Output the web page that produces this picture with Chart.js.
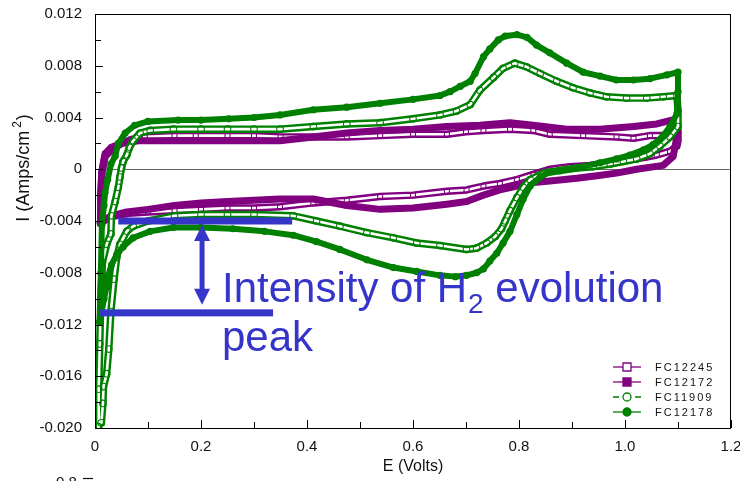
<!DOCTYPE html>
<html><head><meta charset="utf-8">
<script src="https://cdn.jsdelivr.net/npm/chart.js@4.4.1/dist/chart.umd.min.js"></script>
<style>html,body{margin:0;padding:0;background:#fff;overflow:hidden}canvas{display:block}</style>
</head><body>
<canvas id="c" width="740" height="481"></canvas>
<script>
// ---- data (E in volts, I in A/cm^2), sweep order ----
const seriesNames = ['FC12245', 'FC12172', 'FC11909', 'FC12178'];

const fc12245_E = [0.010,0.011,0.013,0.019,0.031,0.050,0.069,0.094,0.150,0.190,0.250,0.300,0.350,0.410,0.475,0.538,0.600,0.664,0.700,0.733,0.783,0.827,0.858,0.921,0.984,1.016,1.047,1.079,1.100,
  1.100,1.098,1.085,1.060,1.035,1.003,0.972,0.934,0.896,0.858,0.827,0.796,0.764,0.733,0.701,0.664,0.600,0.538,0.475,0.412,0.349,0.300,0.250,0.200,0.150,0.100,0.063,0.038,0.020,0.012];
const fc12245_I = [-0.0041,-0.0020,-0.0003,0.0010,0.0015,0.0020,0.0023,0.0025,0.0026,0.0026,0.0026,0.0026,0.0025,0.0025,0.0025,0.0026,0.0027,0.0027,0.0029,0.0030,0.0031,0.0030,0.0027,0.0026,0.0025,0.0024,0.0026,0.0026,0.0029,
  0.0022,0.0018,0.0014,0.0011,0.0009,0.0007,0.0005,0.0003,0.0002,0.0000,-0.0004,-0.0008,-0.0011,-0.0013,-0.0016,-0.0017,-0.0020,-0.0021,-0.0024,-0.0026,-0.0029,-0.0030,-0.0030,-0.0031,-0.0032,-0.0033,-0.0034,-0.0036,-0.0039,-0.0041];

const fc12172_E = [0.010,0.011,0.013,0.019,0.031,0.050,0.082,0.150,0.200,0.250,0.300,0.349,0.412,0.475,0.538,0.600,0.664,0.726,0.783,0.827,0.890,0.953,1.016,1.060,1.098,
  1.100,1.091,1.072,1.022,0.984,0.947,0.909,0.858,0.833,0.796,0.764,0.733,0.701,0.664,0.600,0.538,0.475,0.412,0.349,0.300,0.250,0.200,0.150,0.100,0.060,0.030,0.019,0.012];
const fc12172_I = [-0.0042,-0.0020,-0.0001,0.0012,0.0017,0.0020,0.0022,0.0022,0.0022,0.0022,0.0022,0.0022,0.0025,0.0028,0.0030,0.0031,0.0033,0.0034,0.0036,0.0034,0.0031,0.0031,0.0033,0.0035,0.0039,
  0.0030,0.0010,0.0003,0.0000,-0.0003,-0.0005,-0.0007,-0.0009,-0.0010,-0.0013,-0.0016,-0.0020,-0.0025,-0.0027,-0.0030,-0.0031,-0.0028,-0.0023,-0.0023,-0.0024,-0.0025,-0.0026,-0.0028,-0.0031,-0.0033,-0.0036,-0.0039,-0.0042];

const fc11909_E = [0.006,0.007,0.009,0.011,0.014,0.022,0.030,0.031,0.038,0.044,0.047,0.050,0.053,0.060,0.065,0.072,0.085,0.104,0.148,0.200,0.250,0.300,0.349,0.412,0.475,0.538,0.600,0.651,0.682,0.708,0.726,0.752,0.770,0.792,0.815,0.840,0.871,0.902,0.934,0.965,1.003,1.041,1.072,1.098,
  1.100,1.100,1.085,1.066,1.047,1.022,0.997,0.972,0.940,0.909,0.877,0.846,0.821,0.808,0.796,0.783,0.774,0.767,0.755,0.739,0.720,0.701,0.651,0.607,0.563,0.513,0.462,0.418,0.374,0.300,0.250,0.200,0.150,0.100,0.072,0.060,0.047,0.041,0.036,0.030,0.026,0.022,0.016,0.015,0.012];
const fc11909_I = [-0.0199,-0.0170,-0.0135,-0.0100,-0.0072,-0.0058,-0.0050,-0.0036,-0.0025,-0.0014,-0.0006,0.0001,0.0006,0.0011,0.0017,0.0022,0.0028,0.0030,0.0031,0.0031,0.0031,0.0031,0.0031,0.0033,0.0035,0.0036,0.0039,0.0042,0.0045,0.0050,0.0061,0.0071,0.0078,0.0082,0.0079,0.0074,0.0068,0.0063,0.0059,0.0056,0.0055,0.0055,0.0056,0.0057,
  0.0045,0.0033,0.0025,0.0018,0.0012,0.0008,0.0006,0.0004,0.0002,0.0001,-0.0001,-0.0003,-0.0008,-0.0014,-0.0022,-0.0032,-0.0040,-0.0046,-0.0052,-0.0057,-0.0061,-0.0062,-0.0059,-0.0057,-0.0053,-0.0049,-0.0044,-0.0040,-0.0036,-0.0035,-0.0035,-0.0035,-0.0036,-0.0040,-0.0044,-0.0048,-0.0058,-0.0068,-0.0085,-0.0110,-0.0139,-0.0158,-0.0168,-0.0181,-0.0196];

const fc12178_E = [0.009,0.011,0.013,0.017,0.019,0.024,0.030,0.038,0.044,0.057,0.075,0.100,0.157,0.200,0.252,0.300,0.349,0.412,0.475,0.538,0.600,0.651,0.670,0.689,0.708,0.717,0.733,0.745,0.761,0.774,0.796,0.815,0.833,0.858,0.890,0.921,0.953,0.984,1.016,1.047,1.079,1.100,
  1.100,1.098,1.085,1.072,1.053,1.035,1.009,0.984,0.953,0.921,0.890,0.858,0.840,0.821,0.808,0.796,0.783,0.770,0.758,0.745,0.733,0.720,0.701,0.680,0.651,0.607,0.563,0.513,0.462,0.418,0.374,0.320,0.260,0.200,0.148,0.104,0.072,0.053,0.041,0.031,0.025,0.022,0.017,0.009];
const fc12178_I = [-0.0118,-0.0080,-0.0043,-0.0028,-0.0018,-0.0008,0.0004,0.0010,0.0020,0.0028,0.0034,0.0037,0.0038,0.0038,0.0039,0.0040,0.0042,0.0046,0.0048,0.0051,0.0054,0.0057,0.0060,0.0064,0.0068,0.0074,0.0087,0.0093,0.0100,0.0103,0.0104,0.0102,0.0096,0.0090,0.0082,0.0075,0.0072,0.0069,0.0069,0.0070,0.0073,0.0075,
  0.0060,0.0043,0.0033,0.0026,0.0019,0.0015,0.0011,0.0008,0.0005,0.0002,0.0000,-0.0002,-0.0006,-0.0013,-0.0023,-0.0035,-0.0048,-0.0057,-0.0065,-0.0071,-0.0077,-0.0080,-0.0082,-0.0083,-0.0082,-0.0079,-0.0076,-0.0070,-0.0062,-0.0056,-0.0051,-0.0048,-0.0046,-0.0045,-0.0045,-0.0048,-0.0053,-0.0060,-0.0066,-0.0074,-0.0082,-0.0091,-0.0100,-0.0118];

const xTickLabels = ['0','0.2','0.4','0.6','0.8','1.0','1.2'];
const yTickLabels = ['-0.020','-0.016','-0.012','-0.008','-0.004','0','0.004','0.008','0.012'];

// annotation (blue) in data units
const annotUpper = [0.044, 0.372, -0.0040];   // E start, E end, I
const annotLower = [0.008, 0.336, -0.0111];
const annotArrowE = 0.202;

// ---- styling ----
const PURPLE = '#800080', GREEN = '#008000', BLUE = '#3535c9';
const FONT = '"Liberation Sans", Arial, sans-serif';

function pts(E, I) { return E.map((x, i) => ({ x: x, y: I[i] })); }

const datasets = [
  { label: 'FC12178', data: pts(fc12178_E, fc12178_I), showLine: true, order: 1,
    borderColor: GREEN, borderWidth: 6, pointStyle: 'circle', pointRadius: 3.6,
    pointBackgroundColor: GREEN, pointBorderColor: GREEN, pointBorderWidth: 0 },
  { label: 'FC11909-in', data: pts(fc11909_E, fc11909_I), showLine: true, order: 2,
    borderColor: '#ffffff', borderWidth: 2.6, pointStyle: 'circle', pointRadius: 3.3,
    pointBackgroundColor: 'rgba(0,0,0,0)', pointBorderColor: GREEN, pointBorderWidth: 1.1 },
  { label: 'FC11909', data: pts(fc11909_E, fc11909_I), showLine: true, order: 3,
    borderColor: GREEN, borderWidth: 7.5, pointRadius: 0 },
  { label: 'FC12172', data: pts(fc12172_E, fc12172_I), showLine: true, order: 4,
    borderColor: PURPLE, borderWidth: 7, pointStyle: 'rect', pointRadius: 3.9,
    pointBackgroundColor: PURPLE, pointBorderColor: PURPLE, pointBorderWidth: 0 },
  { label: 'FC12245-in', data: pts(fc12245_E, fc12245_I), showLine: true, order: 5,
    borderColor: '#ffffff', borderWidth: 2.6, pointStyle: 'rect', pointRadius: 3.5,
    pointBackgroundColor: 'rgba(0,0,0,0)', pointBorderColor: PURPLE, pointBorderWidth: 1.1 },
  { label: 'FC12245', data: pts(fc12245_E, fc12245_I), showLine: true, order: 6,
    borderColor: PURPLE, borderWidth: 7.5, pointRadius: 0 }
];

const decor = {
  id: 'decor',
  beforeDatasetsDraw(chart) {
    const { ctx, chartArea: a, scales: { y } } = chart;
    const y0 = Math.round(y.getPixelForValue(0)) + 0.5;
    ctx.save();
    ctx.strokeStyle = '#666'; ctx.lineWidth = 1.2;
    ctx.beginPath(); ctx.moveTo(a.left, y0); ctx.lineTo(a.right, y0); ctx.stroke();
    ctx.restore();
  },
  afterDatasetsDraw(chart) {
    const { ctx, chartArea: a, scales: { x, y } } = chart;
    ctx.save();
    // frame
    ctx.strokeStyle = '#000'; ctx.lineWidth = 1;
    ctx.strokeRect(a.left + 0.5, a.top + 0.5, a.right - a.left - 1, a.bottom - a.top);
    // inward ticks
    ctx.beginPath();
    const yt = y.ticks.map(t => t.value);
    yt.forEach((v, i) => {
      const py = Math.round(y.getPixelForValue(v)) + 0.5;
      ctx.moveTo(a.left, py); ctx.lineTo(a.left + 8, py);
      if (i < yt.length - 1) {
        const pm = Math.round(y.getPixelForValue((v + yt[i + 1]) / 2)) + 0.5;
        ctx.moveTo(a.left, pm); ctx.lineTo(a.left + 6, pm);
      }
    });
    const xt = x.ticks.map(t => t.value);
    xt.forEach((v, i) => {
      const px = Math.round(x.getPixelForValue(v)) + 0.5;
      ctx.moveTo(px, a.bottom); ctx.lineTo(px, a.bottom - 8);
      if (i < xt.length - 1) {
        const pm = Math.round(x.getPixelForValue((v + xt[i + 1]) / 2)) + 0.5;
        ctx.moveTo(pm, a.bottom); ctx.lineTo(pm, a.bottom - 6);
      }
    });
    ctx.stroke();

    // y axis title (rotated, with superscript)
    ctx.save();
    ctx.translate(29, 168);
    ctx.rotate(-Math.PI / 2);
    ctx.fillStyle = '#111';
    ctx.textBaseline = 'alphabetic';
    ctx.font = '18px ' + FONT;
    const t1 = 'I (Amps/cm';
    const w1 = ctx.measureText(t1).width;
    ctx.font = '12px ' + FONT;
    const w2 = ctx.measureText('2').width + 4;
    ctx.font = '18px ' + FONT;
    const w3 = ctx.measureText(')').width;
    let sx = -(w1 + w2 + w3) / 2;
    ctx.fillText(t1, sx, 0);
    ctx.font = '12px ' + FONT;
    ctx.fillText('2', sx + w1 + 3, -8);
    ctx.font = '18px ' + FONT;
    ctx.fillText(')', sx + w1 + w2, 0);
    ctx.restore();

    // blue annotation
    ctx.fillStyle = BLUE; ctx.strokeStyle = BLUE;
    const uy = y.getPixelForValue(annotUpper[2]);
    const ly = y.getPixelForValue(annotLower[2]);
    ctx.fillRect(x.getPixelForValue(annotUpper[0]), uy - 3.5, x.getPixelForValue(annotUpper[1]) - x.getPixelForValue(annotUpper[0]), 7);
    ctx.fillRect(x.getPixelForValue(annotLower[0]), ly - 3.5, x.getPixelForValue(annotLower[1]) - x.getPixelForValue(annotLower[0]), 7);
    const ax = x.getPixelForValue(annotArrowE);
    const top = uy + 4, bot = ly - 8;
    ctx.fillRect(ax - 2.5, top + 12, 5, bot - top - 24);
    ctx.beginPath();
    ctx.moveTo(ax, top); ctx.lineTo(ax - 8, top + 16); ctx.lineTo(ax + 8, top + 16); ctx.closePath(); ctx.fill();
    ctx.beginPath();
    ctx.moveTo(ax, bot); ctx.lineTo(ax - 8, bot - 16); ctx.lineTo(ax + 8, bot - 16); ctx.closePath(); ctx.fill();

    ctx.textBaseline = 'alphabetic'; ctx.textAlign = 'left';
    ctx.font = '42px ' + FONT;
    const a1 = 'Intensity of H';
    ctx.fillText(a1, 222, 302);
    let tx = 222 + ctx.measureText(a1).width;
    ctx.font = '28px ' + FONT;
    ctx.fillText('2', tx + 1, 313);
    tx += ctx.measureText('2').width + 1;
    ctx.font = '42px ' + FONT;
    ctx.fillText(' evolution', tx, 302);
    ctx.fillText('peak', 222, 351);

    // legend
    const legY = [367, 382, 397, 412];
    const styles = [
      { c: PURPLE, shape: 'rect', fill: false, dash: [] },
      { c: PURPLE, shape: 'rect', fill: true, dash: [] },
      { c: GREEN, shape: 'circle', fill: false, dash: [6, 5] },
      { c: GREEN, shape: 'circle', fill: true, dash: [] }
    ];
    ctx.font = '11px ' + FONT;
    if ('letterSpacing' in ctx) ctx.letterSpacing = '2px';
    ctx.textBaseline = 'middle';
    seriesNames.forEach((n, i) => {
      const s = styles[i], cy = legY[i], cx = 627;
      ctx.strokeStyle = s.c; ctx.lineWidth = 1.3; ctx.setLineDash(s.dash);
      ctx.beginPath(); ctx.moveTo(613, cy); ctx.lineTo(641, cy); ctx.stroke();
      ctx.setLineDash([]);
      ctx.fillStyle = s.fill ? s.c : '#fff';
      ctx.beginPath();
      if (s.shape === 'rect') ctx.rect(cx - 4, cy - 4, 8, 8);
      else ctx.arc(cx, cy, 4, 0, Math.PI * 2);
      ctx.fill(); ctx.stroke();
      ctx.fillStyle = '#111';
      ctx.fillText(n, 655, cy + 0.5);
    });
    if ('letterSpacing' in ctx) ctx.letterSpacing = '0px';

    // fragment of a second chart's axis label at the very bottom
    ctx.fillStyle = '#111';
    ctx.font = '15px ' + FONT;
    ctx.textBaseline = 'alphabetic';
    ctx.fillText('0.8', 56, 487);
    ctx.strokeStyle = '#111'; ctx.lineWidth = 1.2;
    ctx.beginPath(); ctx.moveTo(83, 478.5); ctx.lineTo(93, 478.5); ctx.stroke();
    ctx.restore();
  }
};

new Chart(document.getElementById('c'), {
  type: 'scatter',
  data: { datasets: datasets },
  options: {
    responsive: false, animation: false, devicePixelRatio: 1,
    layout: { padding: { top: 14, right: 9, left: 0, bottom: 0 } },
    elements: { line: { tension: 0, borderJoinStyle: 'round', borderCapStyle: 'round' } },
    plugins: { legend: { display: false }, tooltip: { enabled: false } },
    scales: {
      x: {
        type: 'linear', min: 0, max: 1.2,
        ticks: { stepSize: 0.2, padding: 10, autoSkip: false, maxRotation: 0, color: '#111',
                 font: { size: 15, family: FONT }, callback: (v, i) => xTickLabels[i] },
        grid: { display: false, drawTicks: false }, border: { display: false },
        title: { display: true, text: 'E (Volts)', color: '#111', font: { size: 16, family: FONT }, padding: { top: 0, bottom: 5 } },
        afterFit(s) { s.height = 53; s.paddingLeft = 0; s.paddingRight = 0; }
      },
      y: {
        type: 'linear', min: -0.02, max: 0.012,
        ticks: { stepSize: 0.004, padding: 13, autoSkip: false, color: '#111',
                 font: { size: 15, family: FONT }, callback: (v, i) => yTickLabels[i] },
        grid: { display: false, drawTicks: false }, border: { display: false },
        afterFit(s) { s.width = 95; s.paddingTop = 0; s.paddingBottom = 0; }
      }
    }
  },
  plugins: [decor]
});
</script>
</body></html>
